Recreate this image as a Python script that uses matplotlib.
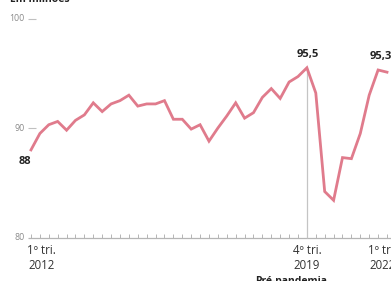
import matplotlib.pyplot as plt

# População ocupada, em milhões (1º tri. 2012 a 1º tri. 2022)
quarters = list(range(41))
values = [88.0, 89.5, 90.3, 90.6, 89.8, 90.7, 91.2, 92.3, 91.5, 92.2,
          92.5, 93.0, 92.0, 92.2, 92.2, 92.5, 90.8, 90.8, 89.9, 90.3,
          88.8, 90.0, 91.1, 92.3, 90.9, 91.4, 92.8, 93.6, 92.7, 94.2,
          94.7, 95.5, 93.2, 84.2, 83.4, 87.3, 87.2, 89.5, 93.0, 95.3,
          95.1]
yticks = [80, 90, 100]
xlabels = {0: "1º tri.\n2012", 31: "4º tri.\n2019", 39: "1º tri.\n2022"}
highlights = {0: "88", 31: "95,5", 39: "95,3"}

plt.rcParams['font.family'] = ['Open Sans', 'DejaVu Sans']

fig = plt.figure(figsize=(3.91, 2.81), dpi=100)
ax = fig.add_axes([0, 0, 1, 1])
ax.set_xlim(-3.48, 40.45)
ax.set_ylim(76.03, 101.69)
ax.axis('off')

line_color = '#e07b8c'
grey = '#8a8a8a'

# eixo e marcas trimestrais
ax.hlines(80, -0.35, 40.45, color='#b5b5b5', lw=0.9)
ax.vlines(quarters, 80, 80.35, color='#b5b5b5', lw=0.7)
# linha pré-pandemia
ax.vlines(31, 80, values[31], color='#c4c4c4', lw=0.9)

for t in yticks:
    ax.text(-0.75, t, str(t), ha='right', va='center', fontsize=6.3, color=grey)
    if t != 80:
        ax.hlines(t, -0.35, 0.55, color='#c0c0c0', lw=0.8)

ax.plot(quarters, values, color=line_color, lw=2.0, solid_joinstyle='miter')

# valores destacados
ax.text(0.05, values[0] - 0.55, highlights[0], ha='right', va='top',
        fontsize=8, fontweight='bold', color='#222222')
for i in (31, 39):
    ax.text(i + (0.35 if i == 39 else 0.1), values[i] + 0.75, highlights[i],
            ha='center', va='bottom', fontsize=8, fontweight='bold', color='#222222')

# rótulos do eixo x
label_pos = {0: 1.2, 31: 31.0, 39: 39.45}
for i, lab in xlabels.items():
    ax.text(label_pos[i], 79.45, lab, ha='center', va='top', fontsize=8.3,
            color='#333333', linespacing=1.25)

ax.text(29.2, 76.45, "Pré-pandemia", ha='center', va='top', fontsize=7.5,
        fontweight='bold', color='#222222')
fig.text(0.025, 1 - 2 / 281, "Em milhões", ha='left', va='baseline',
         fontsize=7.5, fontweight='bold', color='#222222')

fig.savefig('out.png', dpi=100)
